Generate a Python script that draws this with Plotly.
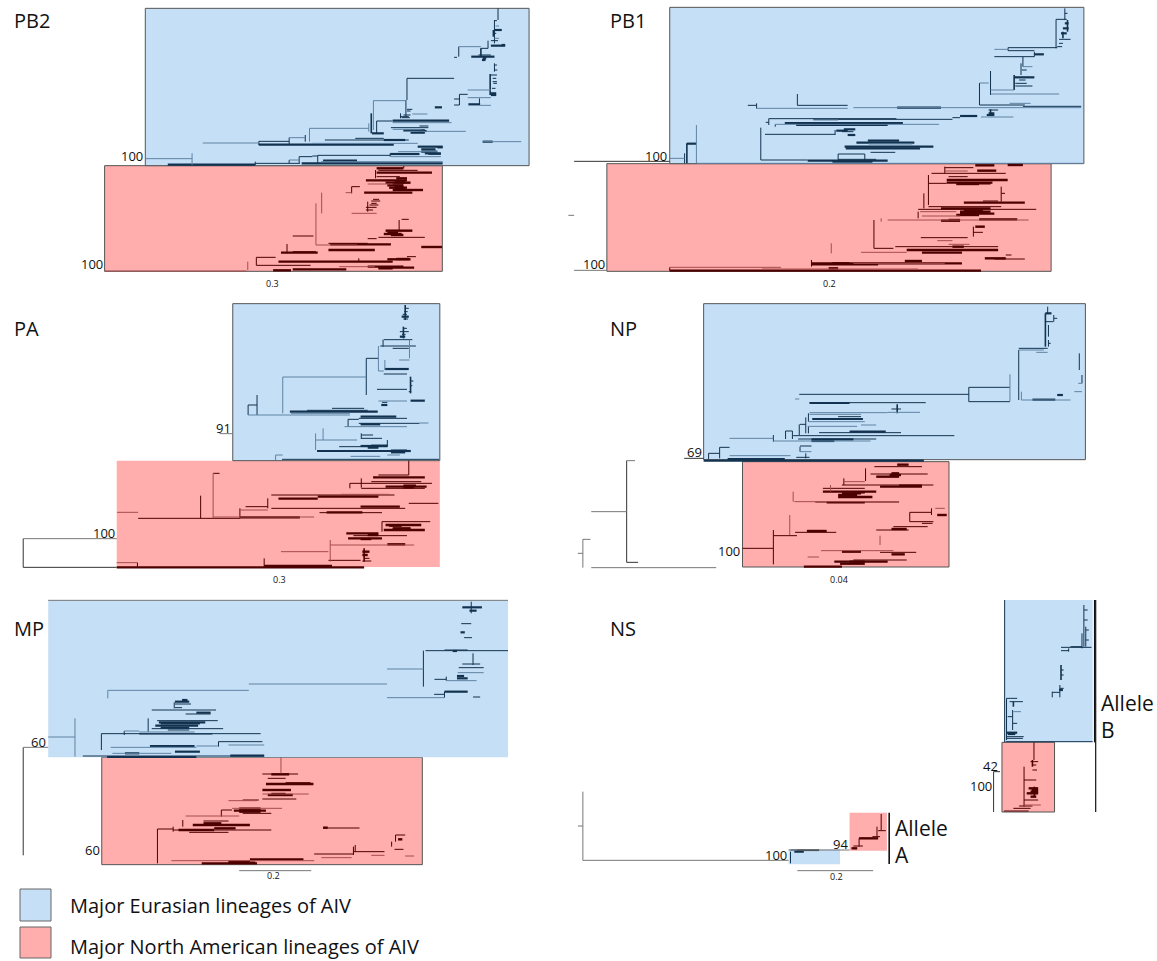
import plotly.graph_objects as go

# Branch tables: horizontal (x0, x1, y, weight), vertical (x, y0, y1, weight)
# weight: 0 = thin dark, 1 = thick dark (collapsed cluster), 2 = pale branch
PB2_EU_H = [(1385,1405,90,1),(1375,1395,122,0),(1375,1415,137,1),(1285,1347,140,2),(1347,1367,145,0),(1272,1280,172,0),(1320,1385,170,1),(1340,1375,165,0),(1350,1360,180,1),(1373,1392,225,0),(1380,1392,245,0),(1375,1390,285,1),(1310,1375,270,2),(1287,1310,283,0),(1272,1287,297,0),(1272,1287,315,0),(1310,1375,293,2),(1312,1345,313,1),(1345,1375,316,2),(1218,1238,322,1),(1140,1272,235,0),(1046,1135,302,2),(1140,1155,328,0),(1155,1197,342,2),(1122,1145,350,0),(1125,1148,353,0),(1100,1258,362,1),(1055,1100,363,0),(1100,1265,368,2),(1095,1200,383,0),(1100,1180,388,2),(1130,1190,391,1),(1042,1075,400,1),(1130,1305,394,2),(1150,1190,398,1),(867,1033,385,2),(810,855,413,2),(725,810,424,0),(568,725,429,2),(725,1103,434,1),(875,1170,430,2),(910,1145,420,0),(995,1075,415,0),(1075,1135,420,1),(1352,1460,425,2),(1352,1380,425,1),(1170,1240,440,1),(1225,1240,442,1),(1115,1225,455,2),(1093,1175,462,1),(1180,1225,455,1),(1095,1235,470,2),(890,1093,466,0),(875,890,468,0),(838,875,470,0),(810,838,480,2),(905,1000,482,1),(900,1240,485,2),(845,1240,490,1),(470,715,494,1),(715,840,490,0),(407,538,476,2),
            (1385,1392,62,0),(1388,1398,78,2),(1385,1390,100,0),(1395,1406,90,0),(1385,1398,115,2),(1405,1415,135,1),(1352,1362,175,1),(1385,1392,195,0),(1385,1393,210,0),(1380,1390,235,0),(1382,1392,250,0),(1378,1388,265,0),(1375,1390,280,1),(1140,1150,333,0),(1130,1150,345,0),(1175,1200,378,0),(1170,1195,393,1),(1180,1220,448,1),(1190,1235,460,1),(1200,1235,463,0)]
PB2_EU_V = [(1395,25,60,0),(1385,60,130,0),(1382,90,110,1),(1367,122,145,0),(1285,140,170,0),(1347,145,170,1),(1385,190,215,0),(1373,222,285,1),(1287,283,315,0),(1343,295,315,0),(1140,235,300,0),(1046,302,390,2),(1137,300,350,0),(1122,340,355,0),(1040,340,400,1),(1033,370,395,2),(1055,363,400,0),(867,385,425,2),(855,405,425,0),(810,413,432,0),(725,424,435,0),(1093,460,470,0),(890,466,490,0),(838,470,490,0),(715,485,495,0),(810,480,490,0),(538,460,495,2)]
PB2_NA_H = [(1055,1130,505,1),(1060,1170,511,0),(1055,1210,518,1),(1055,1120,530,0),(1025,1140,541,1),(1030,1100,552,2),(1080,1150,548,1),(1105,1130,560,1),(1020,1155,578,1),(1100,1185,570,1),(1090,1140,563,1),(985,1008,560,0),(968,985,578,2),(1040,1065,603,0),(1035,1060,615,0),(1025,1045,630,0),(985,1055,640,2),(1125,1145,658,0),(1080,1155,692,1),(1075,1125,702,1),(1060,1190,712,0),(820,878,708,0),(1030,1055,716,0),(920,1030,730,0),(885,1000,735,2),(925,1095,733,1),(920,1050,750,1),(787,890,758,1),(820,885,755,0),(1180,1238,741,1),(718,772,772,0),(1085,1150,778,1),(780,1100,785,1),(718,870,796,0),(1140,1165,770,0),(820,970,808,1),(1060,1160,803,1),(765,815,811,1),(950,1050,800,2),(293,690,813,2),
            (1110,1140,535,1),(1105,1135,547,1),(1085,1130,556,1),(1105,1135,566,1),(1045,1062,598,0),(1040,1055,610,0),(1025,1055,622,0),(1085,1115,698,1),(1095,1130,705,1),(1110,1145,777,1),(1060,1100,805,1),(1030,1130,800,1)]
PB2_NA_V = [(1131,498,505,0),(1052,510,535,0),(985,560,580,0),(1030,605,635,0),(901,578,640,2),(885,610,735,2),(1118,660,690,0),(804,732,760,0),(718,772,796,0),(694,785,810,2),(1005,775,785,0)]

PB1_EU_H = [(1302,1330,58,0),(1310,1340,118,0),(1176,1305,143,0),(1176,1245,152,0),(1140,1176,148,2),(1140,1245,170,0),(1245,1270,163,1),(1215,1240,200,2),(1192,1245,232,1),(1195,1240,258,0),(1195,1225,250,0),(1130,1192,270,2),(1130,1310,282,2),(1101,1125,249,2),(1101,1220,315,0),(1180,1235,310,2),(515,755,325,2),(770,1368,323,2),(885,1000,323,1),(1215,1368,319,0),(493,516,316,0),(623,755,316,0),(1105,1190,351,2),(1050,1095,348,1),(1030,1050,353,0),(1125,1150,330,0),(548,883,356,0),(540,548,367,0),(665,1030,358,0),(665,730,360,2),(590,900,369,1),(565,995,373,2),(620,860,375,1),(527,650,480,0),(538,722,403,0),(725,755,392,1),(755,775,405,1),(808,890,422,1),(778,930,428,1),(810,925,432,2),(747,980,440,1),(750,945,445,1),(730,800,462,0),(815,880,457,0),(730,830,478,0),(650,860,482,1),(715,820,485,1),(333,358,431,1),(288,327,475,2),(360,1375,490,2),
            (1325,1332,40,0),(1325,1335,70,1),(1320,1335,85,1),(1315,1330,100,1),(1310,1320,130,0),(1305,1318,140,0),(1212,1225,210,0),(1205,1222,240,0),(1125,1140,340,1),(1120,1140,345,1),(745,775,388,1),(740,770,395,0)]
PB1_EU_V = [(1325,25,60,0),(1332,60,95,1),(1302,58,145,0),(1320,95,115,1),(1176,143,152,0),(1245,155,170,0),(1215,170,200,0),(1210,190,225,0),(1192,225,270,1),(1130,213,285,0),(1101,249,315,0),(516,310,325,0),(623,282,316,0),(1130,328,348,1),(548,356,375,0),(565,373,380,0),(527,383,480,0),(722,390,405,0),(730,462,480,0),(800,462,482,0),(358,375,490,2),(333,430,490,1),(327,460,490,0)]
PB1_NA_H = [(1090,1140,496,1),(1175,1215,495,1),(1010,1085,503,0),(1010,1070,513,2),(1095,1145,512,1),(975,1170,520,0),(1020,1070,530,0),(967,1015,550,0),(1015,1175,540,1),(1015,1135,548,1),(1040,1100,552,1),(1158,1168,580,0),(967,1158,620,0),(1060,1220,608,1),(1110,1150,603,0),(1000,1130,625,1),(940,1250,628,0),(945,1040,635,2),(950,1050,648,2),(1050,1130,635,1),(1040,1100,645,1),(860,1230,660,2),(1000,1050,662,1),(1100,1200,658,1),(824,875,745,0),(1090,1115,680,1),(1085,1110,697,0),(947,1070,713,0),(990,1030,722,2),(1020,1075,733,2),(1030,1060,740,1),(910,1150,750,1),(950,1055,758,1),(790,910,757,2),(880,1150,740,0),(1115,1170,775,1),(1140,1220,777,0),(1170,1185,765,0),(660,1055,790,1),(905,950,783,1),(660,835,793,1),(715,760,790,1),(770,1010,790,2),(288,580,802,2),(288,1105,812,1),(530,940,807,2),(705,730,805,1),
            (1050,1120,638,1),(1050,1140,641,1),(1020,1050,660,1),(1060,1110,632,1),(1100,1130,550,1)]
PB1_NA_V = [(1010,500,520,0),(967,525,615,0),(1158,560,605,0),(955,580,625,0),(940,635,655,0),(824,660,745,0),(843,655,665,2),(1085,680,710,0),(712,730,760,2),(660,780,800,0),(288,802,812,0)]
PB1_OUT_H = [(37,288,484,0),(37,123,811,2),(22,37,646,2)]

PA_EU_H = [(1125,1145,65,1),(1120,1145,110,0),(1075,1155,134,0),(1065,1165,153,0),(1100,1145,160,0),(1118,1147,195,2),(1078,1145,222,1),(1075,1140,237,0),(1060,1075,228,2),(1026,1060,190,0),(792,1026,246,2),(1056,1140,283,0),(1060,1140,318,2),(1150,1190,317,1),(1068,1085,330,1),(695,720,330,0),(695,980,360,2),(812,1058,350,1),(860,1030,346,0),(815,980,355,2),(930,1020,340,0),(1005,1140,370,0),(975,1005,373,0),(1005,1175,385,0),(965,1140,395,2),(1010,1065,388,1),(1010,1110,365,1),(1175,1200,384,2),(884,1000,435,2),(1012,1045,420,0),(1012,1070,430,0),(888,1150,468,1),(950,1085,455,0),(1010,1085,453,1),(1095,1140,465,0),(772,792,480,2),(790,1230,493,0),(982,1065,484,2),(1085,1120,480,2),
           (1135,1145,40,0),(1132,1142,50,0),(1128,1140,58,0),(1130,1143,72,0),(1130,1140,100,0),(1126,1136,118,0),(1120,1135,125,1),(1150,1158,258,0),(1150,1155,272,0),(1145,1152,290,0),(1070,1085,322,0),(1030,1060,458,1),(1040,1085,452,1),(1100,1150,468,1),(1095,1135,472,1)]
PA_EU_V = [(1135,30,75,1),(1130,95,130,1),(1073,134,155,0),(1147,134,190,2),(1060,153,228,2),(1078,195,225,2),(1026,190,300,0),(792,246,355,2),(1150,245,295,1),(695,330,360,0),(720,300,360,0),(975,373,395,0),(884,415,465,2),(905,400,435,2),(1012,415,432,0),(1085,435,455,0),(772,480,495,2)]
PA_NA_H = [(1060,1145,540,0),(1045,1190,547,1),(1040,1180,560,0),(980,1012,565,0),(1012,1210,565,0),(1080,1195,575,1),(1012,1190,580,0),(1130,1165,572,1),(760,1105,600,0),(780,890,611,1),(890,1060,605,1),(955,1090,598,2),(672,750,645,2),(688,750,635,0),(760,1135,640,0),(1010,1120,635,1),(1145,1228,625,0),(895,1070,653,0),(915,1015,652,1),(597,615,535,0),(387,672,670,0),(597,880,666,2),(672,840,667,1),(328,387,652,2),(1070,1205,680,0),(1080,1180,690,1),(1075,1190,705,1),(1100,1150,700,1),(970,1060,715,1),(975,1070,730,1),(990,1140,722,0),(925,1160,750,2),(1085,1135,748,1),(787,920,770,2),(920,1010,796,0),(1015,1035,770,1),(1015,1040,798,0),(327,1020,817,1),(327,385,803,2),(740,930,813,1),
           (1130,1160,577,1),(1100,1150,703,1),(1090,1125,692,1),(1030,1060,720,1),(1010,1040,732,1),(1015,1030,780,1),(1020,1035,790,0)]
PA_NA_V = [(1145,497,540,0),(1012,550,578,0),(980,565,580,0),(750,610,640,0),(672,640,670,0),(597,535,670,2),(562,602,670,0),(1070,680,710,0),(925,735,800,2),(1020,760,800,1),(385,803,817,0),(740,790,815,0)]
PA_OUT_H = [(65,327,731,2),(65,327,817,0),(615,652,416,2)]
PA_OUT_V = [(65,731,817,0)]

NP_EU_H = [(1274,1290,55,1),(1296,1305,70,0),(1275,1295,80,0),(1282,1288,145,0),(1204,1280,160,0),(1204,1270,165,2),(1250,1280,172,2),(1360,1370,265,2),(1350,1370,290,2),(1211,1340,315,2),(1240,1300,314,1),(1305,1320,300,1),(1073,1181,277,0),(1073,1181,320,0),(628,1073,298,0),(655,960,323,0),(655,760,324,1),(617,628,312,2),(655,860,353,2),(655,790,358,2),(860,945,352,2),(870,895,342,0),(662,795,372,1),(730,790,365,0),(652,800,380,2),(630,645,388,0),(650,780,394,2),(680,895,413,0),(760,855,410,1),(790,830,390,2),(612,1035,422,0),(625,830,432,0),(660,770,433,1),(660,720,438,1),(592,610,408,0),(445,560,430,2),(560,815,438,2),(419,445,457,0),(390,419,475,0),(445,605,482,2),(440,590,492,1),(630,660,453,0),(630,660,470,2),(620,655,487,0),(377,955,497,1)]
NP_EU_V = [(1280,35,55,0),(1274,55,155,1),(1296,60,80,0),(1282,90,125,0),(1282,135,155,0),(1204,165,315,0),(1363,175,225,0),(1370,240,265,0),(1211,290,315,2),(1181,238,318,2),(1073,277,320,0),(652,355,380,0),(885,328,355,1),(645,367,415,0),(628,388,420,0),(652,395,415,0),(610,408,432,0),(592,408,432,0),(560,420,440,0),(419,457,490,0),(390,475,492,0),(630,455,470,0),(645,475,490,0)]
NP_NA_H = [(825,950,515,0),(885,915,509,1),(815,965,537,0),(870,890,535,1),(830,890,545,1),(745,800,560,2),(690,800,580,0),(740,980,570,0),(840,950,575,1),(890,950,572,1),(690,830,590,1),(740,790,595,1),(730,820,606,1),(615,890,620,2),(670,890,621,0),(700,800,622,1),(918,975,652,0),(918,980,680,0),(985,1010,640,2),(990,1015,660,1),(950,978,685,0),(875,965,695,0),(830,915,705,0),(870,910,702,1),(617,725,712,0),(648,700,708,1),(560,622,722,0),(479,560,760,0),(685,875,767,2),(740,790,770,1),(840,935,772,0),(870,905,778,1),(770,910,795,0),(720,860,800,1),(735,800,806,1),(640,740,815,1),(650,680,786,2),
           (770,800,592,1),(730,780,600,1),(865,895,540,1),(760,800,800,1)]
NP_NA_V = [(802,520,558,0),(745,550,570,0),(710,570,590,2),(612,590,620,2),(918,652,680,0),(975,640,660,0),(603,660,720,2),(560,705,808,0),(840,722,750,2)]
NP_OUT_H = [(326,377,490,0),(175,197,497,2),(175,205,802,0),(82,175,650,2),(60,80,733,2),(47,60,775,2),(82,410,818,2)]
NP_OUT_V = [(175,497,802,0),(60,733,818,2)]

MP_EU_H = [(1295,1350,52,1),(1315,1335,62,1),(1292,1320,101,0),(1290,1302,127,1),(1300,1322,143,0),(1192,1423,182,0),(1245,1310,180,0),(1268,1280,183,1),(1084,1186,237,2),(1295,1345,222,0),(1285,1355,233,0),(1282,1355,248,2),(1280,1300,258,1),(1250,1335,272,2),(1217,1250,268,0),(697,1084,282,2),(1084,1245,323,2),(1216,1245,313,0),(1245,1310,305,1),(1325,1345,321,0),(302,697,301,2),(490,530,335,1),(510,525,330,1),(490,535,342,0),(490,510,353,0),(550,590,368,1),(425,605,360,0),(520,590,372,0),(440,610,392,0),(445,575,397,1),(435,555,407,1),(425,625,416,0),(450,530,413,1),(348,390,423,2),(390,545,426,2),(390,595,432,0),(284,730,431,0),(310,550,472,2),(420,545,468,1),(640,740,465,2),(315,480,490,2),(350,390,490,1),(490,560,485,1),(612,735,455,0),(550,610,468,2),(232,740,498,0),(645,740,497,1),(300,550,501,1),(135,210,441,2),
           (450,560,400,1),(470,530,420,0),(1280,1310,265,1)]
MP_EU_V = [(1320,35,70,0),(1186,182,290,0),(1325,190,225,0),(1250,260,272,0),(1245,305,323,0),(302,301,325,2),(488,337,355,0),(415,385,425,0),(348,423,435,0),(284,431,480,0),(210,385,500,2),(612,455,470,0)]
MP_NA_H = [(735,835,552,0),(760,810,553,1),(750,800,565,0),(745,878,582,1),(800,870,578,0),(735,815,600,1),(735,865,612,2),(750,820,615,1),(735,830,627,0),(640,720,632,2),(680,725,630,0),(620,650,660,0),(655,745,662,1),(670,730,656,1),(650,790,655,2),(680,760,670,0),(520,670,678,2),(570,640,693,0),(540,700,705,1),(600,660,715,1),(485,760,720,0),(530,640,727,0),(500,600,720,1),(441,485,717,0),(905,1007,714,0),(905,918,713,1),(1108,1135,735,0),(1115,1127,748,1),(1105,1130,778,0),(1135,1160,798,2),(990,1077,785,0),(1040,1077,796,2),(880,990,792,0),(900,985,803,2),(480,880,812,2),(565,720,820,1),(640,700,815,1),(700,850,808,1),
           (760,800,612,1),(670,730,665,1),(570,620,700,1),(640,715,818,1)]
MP_NA_V = [(787,502,550,2),(620,660,680,0),(512,690,710,0),(441,717,820,0),(485,710,725,0),(1108,735,755,0),(1097,755,770,0),(995,765,785,0),(990,770,795,0)]
MP_OUT_H = [(65,135,472,2),(670,872,842,2),(135,1423,31,2)]
MP_OUT_V = [(65,472,796,0)]

NS_EU_H = [(1315,1395,172,0),(1340,1370,170,0),(1315,1335,182,0),(1312,1322,295,0),(1292,1312,307,0),(1172,1200,325,0),(1180,1215,335,0),(1190,1210,365,2),(1172,1215,445,0),(1172,1200,428,1),(1172,1217,440,0),(1170,1398,455,0),(605,680,780,0),(615,640,785,1),
           (1375,1385,60,0),(1375,1385,90,0),(1380,1388,120,0),(1380,1388,150,0),(1175,1188,380,0),(1188,1200,400,0),(1175,1195,432,1),(1315,1322,240,0),(1315,1322,255,0),(1310,1320,300,1)]
NS_EU_V = [(1375,45,170,0),(1380,110,170,0),(1370,130,175,0),(1335,175,185,0),(1315,225,270,1),(1312,285,322,0),(1292,305,322,0),(1172,325,450,0),(1190,335,350,1),(1188,360,420,0),(605,785,820,0),(1167,30,457,0)]
NS_NA_H = [(1235,1255,515,0),(1218,1250,570,0),(1225,1255,610,1),(1230,1255,595,1),(1218,1255,630,0),(1205,1240,648,0),(1215,1262,645,2),(1190,1235,655,0),(1165,1230,663,0),(785,835,745,1),(770,795,768,0),(765,780,775,1),(820,840,740,0),(835,855,722,0),
           (1235,1255,605,1),(1238,1255,600,1),(1235,1250,620,1),(1240,1250,525,0),(1240,1252,540,0)]
NS_NA_V = [(1244,457,510,0),(1240,510,530,1),(1218,530,650,0),(1245,590,620,1),(843,672,720,0),(832,710,740,0),(785,745,770,0)]
NS_OUT_H = [(1138,1155,545,0),(600,760,780,2),(622,680,781,1),(60,600,811,2),(47,60,708,2),(623,822,842,2)]
NS_OUT_V = [(1138,545,666,0),(60,605,811,2)]
NS_ALLELE_V = [(864,668,822,1),(1406,30,666,0),(1403,30,457,0)]

# (panel origin x, origin y, horizontal scale of the table)
PANELS = {
    "PB2": (0, 0, 0.357),
    "PB1": (560, 0, 0.381),
    "PA": (0, 295, 0.357),
    "NP": (560, 295, 0.381),
    "MP": (0, 590, 0.357),
    "NS": (560, 590, 0.381),
}
# clade boxes: panel, kind, x0, x1, y0, y1, border width
BOXES = [
    ("PB2","NA",293,1239,497,814,1),("PB2","EU",407,1482,25,497,1),
    ("PB1","NA",123,1289,491,814,1),("PB1","EU",288,1375,22,491,1),
    ("PA","NA",327,1232,497,816,0),("PA","EU",652,1232,26,497,1),
    ("NP","NA",479,1021,500,816,1),("NP","EU",377,1379,26,494,1),
    ("MP","NA",285,1183,502,824,1),("MP","EU",135,1423,30,502,0),
    ("NS","EU",1167,1398,30,457,0),("NS","NA",1160,1298,457,666,1),
    ("NS","NA",760,858,668,782,0),("NS","EU",600,735,778,823,0),
]
BRANCHES = [
    ("PB2","EU",PB2_EU_H,PB2_EU_V),("PB2","NA",PB2_NA_H,PB2_NA_V),
    ("PB1","EU",PB1_EU_H,PB1_EU_V),("PB1","NA",PB1_NA_H,PB1_NA_V),("PB1","OUT",PB1_OUT_H,[]),
    ("PA","EU",PA_EU_H,PA_EU_V),("PA","NA",PA_NA_H,PA_NA_V),("PA","OUT",PA_OUT_H,PA_OUT_V),
    ("NP","EU",NP_EU_H,NP_EU_V),("NP","NA",NP_NA_H,NP_NA_V),("NP","OUT",NP_OUT_H,NP_OUT_V),
    ("MP","EU",MP_EU_H,MP_EU_V),("MP","NA",MP_NA_H,MP_NA_V),("MP","OUT",MP_OUT_H,MP_OUT_V),
    ("NS","EU",NS_EU_H,NS_EU_V),("NS","NA",NS_NA_H,NS_NA_V),("NS","OUT",NS_OUT_H,NS_OUT_V),
    ("NS","ALLELE",[],NS_ALLELE_V),
]
FILLS = {"EU": "#c5dff7", "NA": "#ffadad"}
STYLE = {
    "EU": [("#12324f",1.0),("#12324f",2.2),("#5f83a3",1.0)],
    "NA": [("#4d0000",1.0),("#4d0000",2.4),("#a84c4c",1.0)],
    "OUT": [("#333333",1.0),("#333333",1.5),("#777777",1.0)],
    "ALLELE": [("#111111",1.2),("#111111",2.0),("#777777",1.0)],
}
# label, x, y, size, anchor
LABELS = [
    ("PB2",13,20,20,"left"),("PB1",609,20,20,"left"),("PA",13,328,20,"left"),
    ("NP",609,328,20,"left"),("MP",13,628,20,"left"),("NS",609,628,20,"left"),
    ("100",144,156,13,"right"),("100",104,264,13,"right"),
    ("100",668,156,13,"right"),("100",606,264,13,"right"),
    ("91",232,428,13,"right"),("100",116,533,13,"right"),
    ("69",703,452,13,"right"),("100",741,551,13,"right"),
    ("60",47,742,13,"right"),("60",101,850,13,"right"),
    ("100",788,855,13,"right"),("94",849,844,13,"right"),
    ("42",999,766,13,"right"),("100",993,786,13,"right"),
    ("0.3",272,283,9,"center"),("0.2",829,283,9,"center"),
    ("0.3",279,579,9,"center"),("0.04",839,579,9,"center"),
    ("0.2",273,875,9,"center"),("0.2",836,876,9,"center"),
    ("Allele",894,828,21,"left"),("A",894,855,21,"left"),
    ("Allele",1100,703,21,"left"),("B",1100,730,21,"left"),
    ("Major Eurasian lineages of AIV",69,905,20,"left"),
    ("Major North American lineages of AIV",69,946,20,"left"),
]
LEGEND_KEYS = [("EU",20,51,889,921),("NA",20,51,927,958)]

fig = go.Figure()
shapes = []
for panel, kind, x0, x1, y0, y1, bw in BOXES:
    ox, oy, sx = PANELS[panel]
    shapes.append(dict(type="rect", xref="x", yref="y", layer="below",
                       x0=ox+x0*sx, x1=ox+x1*sx, y0=oy+y0/3, y1=oy+y1/3,
                       fillcolor=FILLS[kind], line=dict(color="#555555", width=bw)))
for kind, x0, x1, y0, y1 in LEGEND_KEYS:
    shapes.append(dict(type="rect", xref="x", yref="y", layer="below",
                       x0=x0, x1=x1, y0=y0, y1=y1,
                       fillcolor=FILLS[kind], line=dict(color="#666666", width=1)))

for panel, kind, hs, vs in BRANCHES:
    ox, oy, sx = PANELS[panel]
    for w, (color, width) in enumerate(STYLE[kind]):
        xs, ys = [], []
        for a, b, y, c in hs:
            if c == w:
                xs += [ox+a*sx, ox+b*sx, None]
                ys += [oy+y/3, oy+y/3, None]
        if xs:
            fig.add_trace(go.Scatter(x=xs, y=ys, mode="lines", hoverinfo="skip",
                                     line=dict(color=color, width=width), showlegend=False))
        xs, ys = [], []
        for x, a, b, c in vs:
            if c == w:
                xs += [ox+x*sx, ox+x*sx, None]
                ys += [oy+a/3, oy+b/3, None]
        if xs:
            fig.add_trace(go.Scatter(x=xs, y=ys, mode="lines", hoverinfo="skip",
                                     line=dict(color=color, width=min(width, 1.6)), showlegend=False))

annotations = [dict(text=t, x=x, y=y, xref="x", yref="y", xanchor=a, yanchor="middle",
                    showarrow=False, font=dict(family="Open Sans", size=s, color="#111111"),
                    borderpad=0)
               for t, x, y, s, a in LABELS]

fig.update_layout(
    width=1157, height=961, margin=dict(l=0, r=0, t=0, b=0),
    paper_bgcolor="white", plot_bgcolor="white", showlegend=False,
    xaxis=dict(range=[0, 1157], visible=False, fixedrange=True),
    yaxis=dict(range=[961, 0], visible=False, fixedrange=True),
    shapes=shapes, annotations=annotations,
)
fig.write_html("out.html", config={"displayModeBar": False},
               post_script="document.body.style.margin='0';document.body.style.overflow='hidden';")
